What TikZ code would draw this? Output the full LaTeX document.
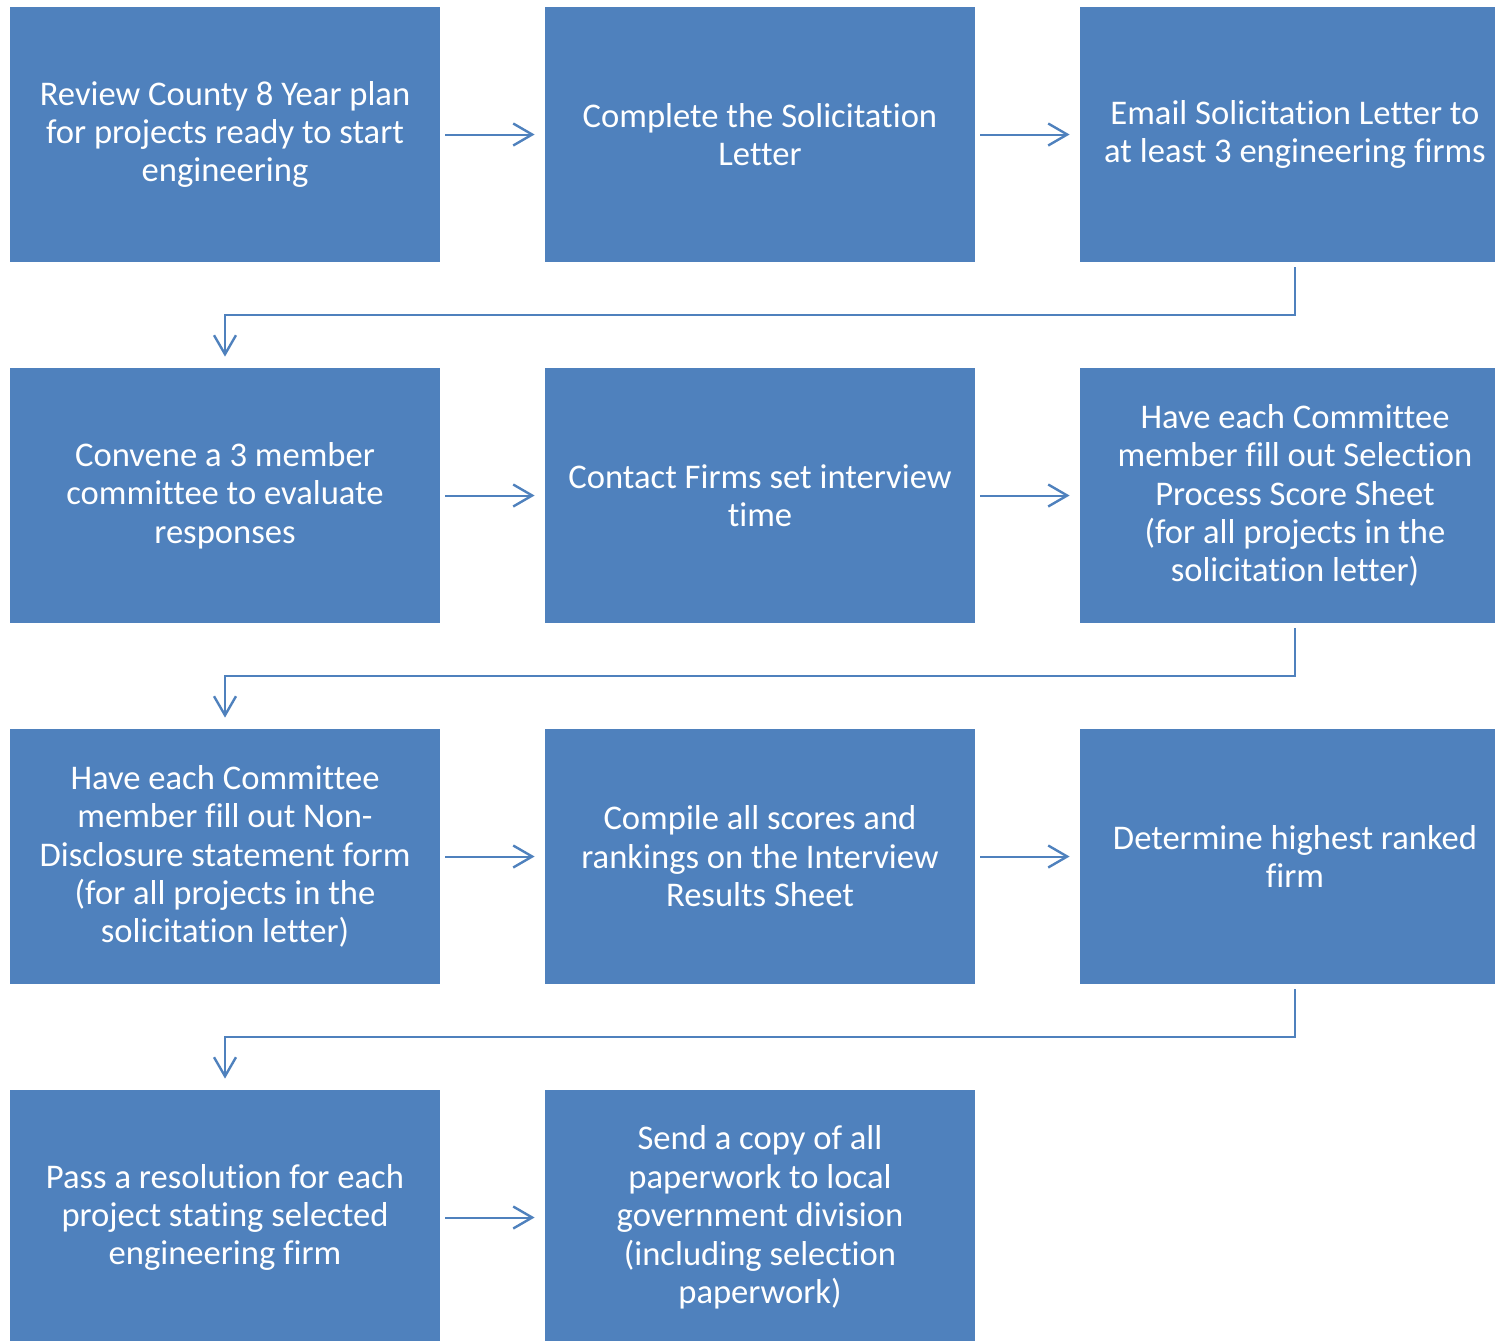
\documentclass[tikz,border=0pt]{standalone}
\usepackage{fontspec}
\setmainfont{Carlito}[Ligatures={NoCommon}]
\usetikzlibrary{arrows.meta}
\definecolor{boxblue}{HTML}{4F81BD}
\begin{document}
\begin{tikzpicture}[x=0.5pt,y=-0.5pt,
  stepbox/.style={fill=boxblue,draw=none,minimum width=215pt,minimum height=127.5pt,
    text=white,align=center,inner sep=0pt,font=\fontsize{17.3}{19.2}\selectfont},
  conn/.style={draw=boxblue,line width=1pt,-{Straight Barb[length=9.5pt,width=11pt,line width=1.2pt]}}]
\clip (0,0) rectangle (1495,1340);
\useasboundingbox (0,0) rectangle (1495,1340);
\node[stepbox] (a1) at (225,134.5) {Review County 8 Year plan\\for projects ready to start\\engineering};
\node[stepbox] (a2) at (760,134.5) {Complete the Solicitation\\Letter};
\node[stepbox] (a3) at (1295,134.5) {Email Solicitation Letter to\\at least 3 engineering firms};
\node[stepbox] (b1) at (225,495.5) {Convene a 3 member\\committee to evaluate\\responses};
\node[stepbox] (b2) at (760,495.5) {Contact Firms set interview\\time};
\node[stepbox] (b3) at (1295,495.5) {Have each Committee\\member fill out Selection\\Process Score Sheet\\(for all projects in the\\solicitation letter)};
\node[stepbox] (c1) at (225,856.5) {Have each Committee\\member fill out Non-\\Disclosure statement form\\(for all projects in the\\solicitation letter)};
\node[stepbox] (c2) at (760,856.5) {Compile all scores and\\rankings on the Interview\\Results Sheet};
\node[stepbox] (c3) at (1295,856.5) {Determine highest ranked\\firm};
\node[stepbox] (d1) at (225,1217.5) {Pass a resolution for each\\project stating selected\\engineering firm};
\node[stepbox] (d2) at (760,1217.5) {Send a copy of all\\paperwork to local\\government division\\(including selection\\paperwork)};
\foreach \p/\q in {a1/a2,a2/a3,b1/b2,b2/b3,c1/c2,c2/c3,d1/d2}{
  \draw[conn] ([xshift=2.5pt]\p.east) -- ([xshift=-5pt]\q.west);
}
\foreach \p/\q/\m in {a3/b1/315,b3/c1/676,c3/d1/1037}{
  \draw[conn] ([yshift=-2.5pt]\p.south) -- (\p.south |- 0,\m) -- (\q.north |- 0,\m) -- ([yshift=5.5pt]\q.north);
}
\end{tikzpicture}
\end{document}
